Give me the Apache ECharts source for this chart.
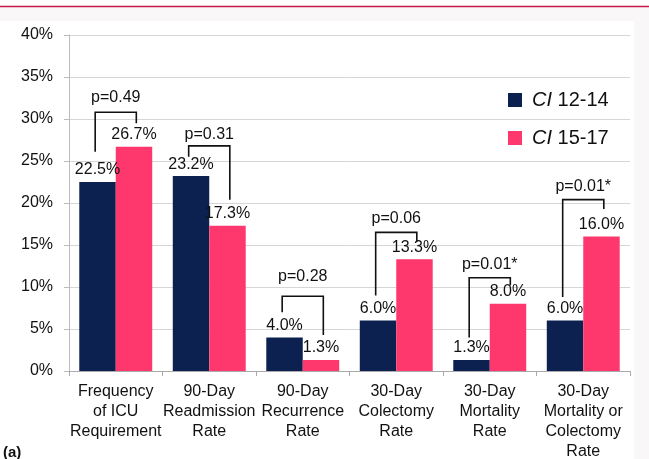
<!DOCTYPE html>
<html>
<head>
<meta charset="utf-8">
<script src="https://cdn.jsdelivr.net/npm/echarts@6/dist/echarts.min.js"></script>
<style>html,body{margin:0;padding:0;background:#fff}#c{width:649px;height:459px}</style>
</head>
<body>
<div id="c"></div>
<script>
const categories = ['Frequency\nof ICU\nRequirement', '90-Day\nReadmission\nRate', '90-Day\nRecurrence\nRate', '30-Day\nColectomy\nRate', '30-Day\nMortality\nRate', '30-Day\nMortality or\nColectomy\nRate'];
const seriesNames = ['CI 12-14', 'CI 15-17'];
const ci1214 = [22.5, 23.2, 4.0, 6.0, 1.3, 6.0];
const ci1517 = [26.7, 17.3, 1.3, 13.3, 8.0, 16.0];
const pLabels = ['p=0.49', 'p=0.31', 'p=0.28', 'p=0.06', 'p=0.01*', 'p=0.01*'];
const bracketTop = [30.8, 26.8, 8.9, 16.5, 11.1, 20.4];
const bracketLeftEnd = [26.1, 25.5, 7.0, 9.0, 4.0, 8.8];
const bracketRightEnd = [29.5, 20.4, 4.3, 15.4, 10.2, 19.3];
const pLabelLevel = [32.5, 28.2, 11.2, 18.1, 12.7, 22.0];
const yTicks = [0, 5, 10, 15, 20, 25, 30, 35, 40];

const FONT = "'Liberation Sans', Arial, sans-serif";
const chart = echarts.init(document.getElementById('c'));
const bracketData = categories.map((c, i) => [i, bracketTop[i], bracketLeftEnd[i], bracketRightEnd[i], pLabelLevel[i]]);

const labelCfg = {
  show: true, position: 'top', distance: 4,
  fontFamily: FONT, fontSize: 16, color: '#111',
  formatter: p => p.value.toFixed(1) + '%'
};

chart.setOption({
  backgroundColor: '#fff',
  animation: false,
  textStyle: { fontFamily: FONT },
  graphic: [
    { type: 'rect', z: -10, shape: { x: 0, y: 7, width: 649, height: 14 }, style: { fill: '#faf7f8' } },
    { type: 'rect', z: -10, shape: { x: 634, y: 7, width: 15, height: 452 }, style: { fill: '#faf7f8' } },
    { type: 'line', z: -9, shape: { x1: 0, y1: 6.5, x2: 649, y2: 6.5 }, style: { stroke: '#c8174a', lineWidth: 1.5 } },
    { type: 'text', left: 3, top: 445, style: { text: '(a)', fontFamily: FONT, fontSize: 15, fontWeight: 'bold', fill: '#111' } }
  ],
  grid: { left: 69, right: 19, top: 35, bottom: 88, containLabel: false, outerBoundsMode: 'none' },
  legend: {
    orient: 'vertical', left: 508, top: 90, padding: 0,
    itemWidth: 14, itemHeight: 14, itemGap: 18, icon: 'rect',
    data: seriesNames,
    formatter: n => '{i|CI}{n| ' + n.slice(3) + '}',
    textStyle: {
      fontFamily: FONT, fontSize: 20, color: '#111',
      rich: {
        i: { fontStyle: 'italic', fontSize: 20, fontFamily: FONT, color: '#111', padding: [0, 0, 0, 5] },
        n: { fontSize: 20, fontFamily: FONT, color: '#111' }
      }
    }
  },
  xAxis: {
    type: 'category', data: categories,
    axisLine: { lineStyle: { color: '#aaa' } },
    axisTick: { show: true, length: 5, lineStyle: { color: '#aaa' } },
    axisLabel: { interval: 0, fontFamily: FONT, fontSize: 16, lineHeight: 20, color: '#111', margin: 11 }
  },
  yAxis: {
    type: 'value', min: yTicks[0], max: yTicks[yTicks.length - 1], interval: yTicks[1] - yTicks[0],
    axisLine: { show: true, lineStyle: { color: '#bbb' } },
    axisTick: { show: true, length: 5, lineStyle: { color: '#bbb' } },
    splitLine: { lineStyle: { color: '#d6d6d6' } },
    axisLabel: { formatter: '{value}%', fontFamily: FONT, fontSize: 16, color: '#111', margin: 16 }
  },
  series: [
    { name: seriesNames[0], type: 'bar', data: ci1214, barGap: '0%', barCategoryGap: '22%',
      itemStyle: { color: '#0c2150' }, label: labelCfg },
    { name: seriesNames[1], type: 'bar', data: ci1517,
      itemStyle: { color: '#fe386c' }, label: labelCfg },
    { type: 'custom', data: bracketData, encode: { x: 0, y: 1 }, z: 10,
      renderItem: (params, api) => {
        const idx = api.value(0);
        const top = api.coord([idx, api.value(1)]);
        const yL = api.coord([idx, api.value(2)])[1];
        const yR = api.coord([idx, api.value(3)])[1];
        const yP = api.coord([idx, api.value(4)])[1];
        const band = api.size([1, 0])[0];
        const off = band * 0.22;
        const xL = top[0] - off, xR = top[0] + off;
        return {
          type: 'group',
          children: [
            { type: 'polyline', shape: { points: [[xL, yL], [xL, top[1]], [xR, top[1]], [xR, yR]] },
              style: { stroke: '#111', lineWidth: 1.6, fill: null } },
            { type: 'text', style: { text: pLabels[idx], x: top[0], y: yP, align: 'center', verticalAlign: 'middle',
              fontFamily: FONT, fontSize: 16, fill: '#111' } }
          ]
        };
      }
    }
  ]
});
</script>
</body>
</html>
